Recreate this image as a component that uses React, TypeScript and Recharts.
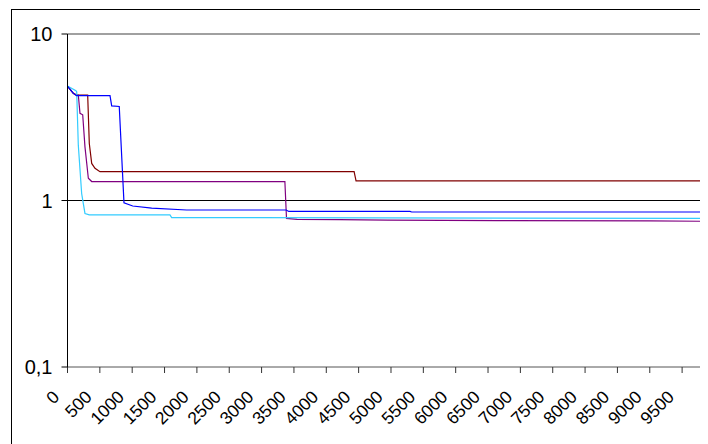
import React from "react";
import { LineChart, Line, XAxis, YAxis, ReferenceLine } from "recharts";

// iteration -> value
const maroon = [
  [0, 4.87], [90, 4.4], [140, 4.3], [312, 4.3], [337, 2.2], [374, 1.67],
  [425, 1.56], [502, 1.49], [4430, 1.49], [4460, 1.31], [9900, 1.31],
];
const purple = [
  [0, 4.87], [90, 4.4], [140, 4.3], [167, 4.3], [193, 3.34], [235, 3.27],
  [270, 2.1], [322, 1.36], [374, 1.3], [3360, 1.3], [3385, 0.78], [3550, 0.77],
  [4200, 0.767], [4950, 0.762], [6650, 0.758], [9000, 0.754], [9900, 0.75],
];
const blue = [
  [0, 4.87], [90, 4.4], [140, 4.26], [657, 4.26], [683, 3.7], [800, 3.67],
  [873, 0.97], [1008, 0.927], [1301, 0.9], [1842, 0.877], [3380, 0.877],
  [3420, 0.86], [5294, 0.86], [5320, 0.853], [9900, 0.853],
];
const cyan = [
  [0, 4.87], [130, 4.57], [142, 4.5], [167, 2.15], [219, 1.1], [270, 0.836],
  [337, 0.82], [1584, 0.82], [1610, 0.79], [9900, 0.78],
];

const xTicks = [0, 500, 1000, 1500, 2000, 2500, 3000, 3500, 4000, 4500, 5000, 5500, 6000, 6500, 7000, 7500, 8000, 8500, 9000, 9500];
const yTicks = [0.1, 1, 10];

const toRows = (pts: number[][]) => pts.map(([x, v]) => ({ x, v }));

const font = "Arial, 'Liberation Sans', sans-serif";

const XTick = ({ x, y, payload }: any) => {
  const tx = x - 7;
  const ty = y + 23;
  return (
    <text x={tx} y={ty} transform={`rotate(-45 ${tx} ${ty})`} textAnchor="end" style={{ fontSize: 17.5, fontFamily: font }} fill="#000">
      {payload.value}
    </text>
  );
};

const YTick = ({ x, y, payload }: any) => (
  <text x={x} y={y + 7} textAnchor="end" style={{ fontSize: 20, fontFamily: font }} fill="#000">
    {String(payload.value).replace(".", ",")}
  </text>
);

export default function App() {
  return (
    <div style={{ position: "relative", width: 700, height: 436, overflow: "hidden", background: "#fff" }}>
      <div style={{ position: "absolute", left: 3, top: 1, width: 800, height: 600, border: "1px solid #000" }} />
      <LineChart width={702} height={436} margin={{ top: 26, right: 2, bottom: 0, left: 0 }} style={{ position: "absolute", left: 0, top: 0 }}>
        <XAxis
          dataKey="x"
          type="number"
          domain={[0, 9900]}
          ticks={xTicks}
          interval={0}
          height={77}
          stroke="#555"
          tickSize={6}
          tickLine={{ stroke: "#333" }}
          tick={<XTick />}
          allowDataOverflow
        />
        <YAxis
          scale="log"
          domain={[0.1, 10]}
          ticks={yTicks}
          width={59.5}
          stroke="#000"
          tickSize={6}
          tickMargin={9}
          allowDataOverflow
          tick={<YTick />}
        />
        <ReferenceLine y={10} stroke="#808080" strokeWidth={1.5} />
        <ReferenceLine y={1} stroke="#000" />
        <Line data={toRows(maroon)} dataKey="v" type="linear" stroke="#800000" strokeWidth={1.2} dot={false} isAnimationActive={false} />
        <Line data={toRows(purple)} dataKey="v" type="linear" stroke="#800080" strokeWidth={1.2} dot={false} isAnimationActive={false} />
        <Line data={toRows(cyan)} dataKey="v" type="linear" stroke="#33CCFF" strokeWidth={1.2} dot={false} isAnimationActive={false} />
        <Line data={toRows(blue)} dataKey="v" type="linear" stroke="#0000FF" strokeWidth={1.2} dot={false} isAnimationActive={false} />
      </LineChart>
    </div>
  );
}
